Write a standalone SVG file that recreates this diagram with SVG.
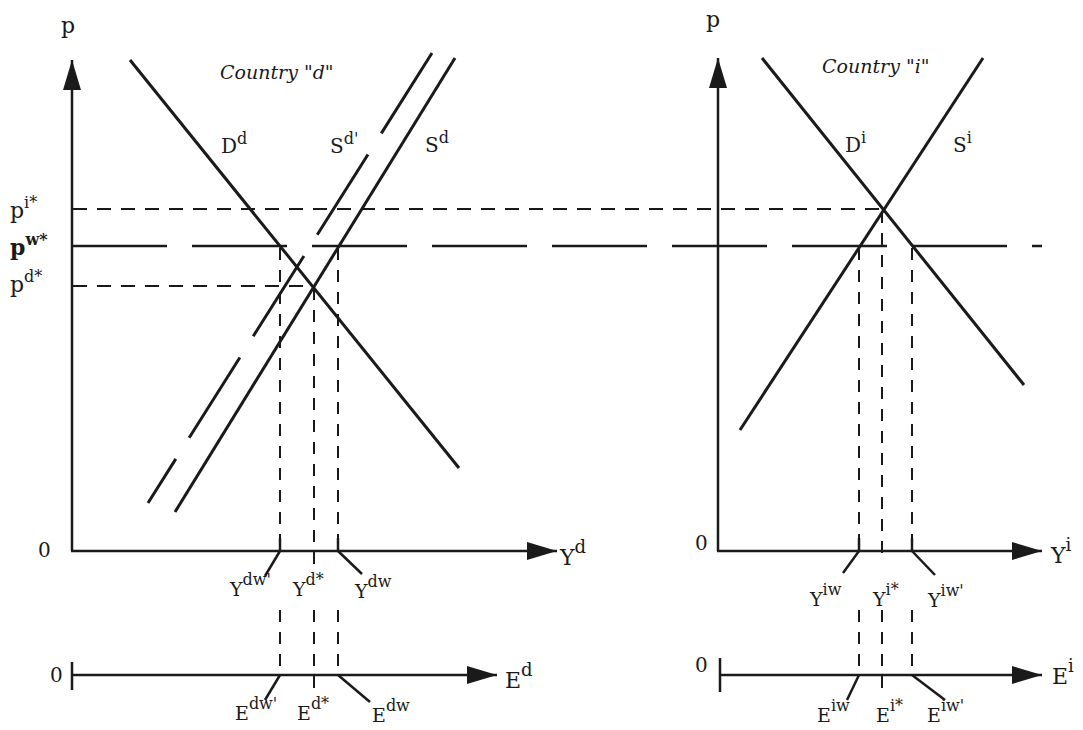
<svg xmlns="http://www.w3.org/2000/svg" width="1083" height="730" viewBox="0 0 1083 730">
<defs>
<style>
.ax{stroke:#1a1a1a;stroke-width:2.5;fill:none}
.cv{stroke:#1a1a1a;stroke-width:3;fill:none;stroke-linecap:butt}
.ds{stroke:#1a1a1a;stroke-width:2;fill:none;stroke-dasharray:12 10}
.hd{stroke:#1a1a1a;stroke-width:2;fill:none;stroke-dasharray:14 10}
.ld{stroke:#1a1a1a;stroke-width:2.5;fill:none}
text{font-family:"DejaVu Serif","Liberation Serif",serif;fill:#1a1a1a}
.lb{font-size:19px}
.big{font-size:22px}
.cur{font-size:20px}
.pl{font-size:22px}
.zero{font-size:20px}
.it{font-size:19px;font-style:italic}
.s{font-size:16px}
</style>
<marker id="ah" markerUnits="userSpaceOnUse" markerWidth="30" markerHeight="18" refX="30" refY="9" orient="auto">
<path d="M0,0 L30,9 L0,18 Z" fill="#1a1a1a"/>
</marker>
</defs>
<rect width="1083" height="730" fill="#ffffff"/>

<g id="axes">
<line class="ax" x1="72" y1="551" x2="72" y2="60" marker-end="url(#ah)"/>
<line class="ax" x1="71" y1="551" x2="557" y2="551" marker-end="url(#ah)"/>
<line class="ax" x1="718" y1="551" x2="718" y2="58" marker-end="url(#ah)"/>
<line class="ax" x1="717" y1="551" x2="1042" y2="551" marker-end="url(#ah)"/>
<line class="ax" x1="72" y1="675" x2="497" y2="675" marker-end="url(#ah)"/>
<line class="ax" x1="72" y1="662" x2="72" y2="690"/>
<line class="ax" x1="720" y1="675" x2="1042" y2="675" marker-end="url(#ah)"/>
<line class="ax" x1="720" y1="658" x2="720" y2="692"/>
</g>

<g id="connectors">
<line class="hd" x1="73" y1="209" x2="883" y2="209"/>
<line class="ld" x1="72" y1="246" x2="1042" y2="246" style="stroke-dasharray:95 25"/>
<line class="hd" x1="73" y1="286" x2="313" y2="286"/>
<line class="ds" x1="280" y1="248" x2="280" y2="540"/>
<line class="ds" x1="314" y1="288" x2="314" y2="565"/>
<line class="ds" x1="338" y1="248" x2="338" y2="540"/>
<line class="ld" x1="280" y1="538" x2="280" y2="551"/>
<line class="ld" x1="338" y1="538" x2="338" y2="551"/>
<line class="ds" x1="280" y1="610" x2="280" y2="672"/>
<line class="ds" x1="314" y1="610" x2="314" y2="692"/>
<line class="ds" x1="338" y1="610" x2="338" y2="672"/>
<line class="ds" x1="859" y1="248" x2="859" y2="540"/>
<line class="ds" x1="882" y1="211" x2="882" y2="557"/>
<line class="ds" x1="912" y1="248" x2="912" y2="540"/>
<line class="ld" x1="859" y1="538" x2="859" y2="551"/>
<line class="ld" x1="912" y1="538" x2="912" y2="551"/>
<line class="ds" x1="859" y1="610" x2="859" y2="672"/>
<line class="ds" x1="882" y1="610" x2="882" y2="690"/>
<line class="ds" x1="912" y1="610" x2="912" y2="672"/>
<line class="ld" x1="280" y1="551" x2="265" y2="576"/>
<line class="ld" x1="338" y1="551" x2="362" y2="574"/>
<line class="ld" x1="280" y1="675" x2="265" y2="700"/>
<line class="ld" x1="338" y1="675" x2="370" y2="702"/>
<line class="ld" x1="859" y1="551" x2="843" y2="573"/>
<line class="ld" x1="912" y1="551" x2="935" y2="575"/>
<line class="ld" x1="859" y1="675" x2="847" y2="700"/>
<line class="ld" x1="912" y1="675" x2="945" y2="700"/>
</g>

<g id="curve-Dd"><line class="cv" x1="130" y1="60" x2="459" y2="468"/></g>
<g id="curve-Sd"><line class="cv" x1="175" y1="512" x2="455" y2="58"/></g>
<g id="curve-Sd-prime"><line class="cv" x1="432" y1="53" x2="148" y2="503" style="stroke-dasharray:95 25"/></g>
<g id="curve-Di"><line class="cv" x1="762" y1="58" x2="1024" y2="385"/></g>
<g id="curve-Si"><line class="cv" x1="740" y1="430" x2="983" y2="58"/></g>

<g id="labels">
<text class="pl" x="61" y="33">p</text>
<text class="pl" x="706" y="27">p</text>
<text class="pl" x="10" y="218">p<tspan class="s" dy="-10">i*</tspan></text>
<text class="pl" x="10" y="255" font-weight="bold">p<tspan class="s" dy="-10">w*</tspan></text>
<text class="pl" x="10" y="292">p<tspan class="s" dy="-10">d*</tspan></text>
<text class="zero" x="38" y="557">0</text>
<text class="zero" x="50" y="682">0</text>
<text class="zero" x="695" y="550">0</text>
<text class="zero" x="695" y="672">0</text>

<text class="big" x="560" y="565">Y<tspan font-size="18" dy="-12">d</tspan></text>
<text class="big" x="505" y="688">E<tspan font-size="18" dy="-12">d</tspan></text>
<text class="big" x="1051" y="563">Y<tspan font-size="18" dy="-12">i</tspan></text>
<text class="big" x="1052" y="684">E<tspan font-size="18" dy="-12">i</tspan></text>

<text class="lb" x="230" y="596">Y<tspan class="s" dy="-11">dw'</tspan></text>
<text class="lb" x="293" y="596">Y<tspan class="s" dy="-11">d*</tspan></text>
<text class="lb" x="355" y="598">Y<tspan class="s" dy="-11">dw</tspan></text>
<text class="lb" x="235" y="720">E<tspan class="s" dy="-11">dw'</tspan></text>
<text class="lb" x="297" y="720">E<tspan class="s" dy="-11">d*</tspan></text>
<text class="lb" x="372" y="722">E<tspan class="s" dy="-11">dw</tspan></text>

<text class="lb" x="810" y="606">Y<tspan class="s" dy="-11">iw</tspan></text>
<text class="lb" x="873" y="606">Y<tspan class="s" dy="-11">i*</tspan></text>
<text class="lb" x="928" y="607">Y<tspan class="s" dy="-11">iw'</tspan></text>
<text class="lb" x="817" y="722">E<tspan class="s" dy="-11">iw</tspan></text>
<text class="lb" x="876" y="722">E<tspan class="s" dy="-11">i*</tspan></text>
<text class="lb" x="927" y="722">E<tspan class="s" dy="-11">iw'</tspan></text>

<text class="it" x="220" y="79">Country "d"</text>
<text class="it" x="822" y="73">Country "i"</text>
<text class="cur" x="221" y="153">D<tspan class="s" dy="-9">d</tspan></text>
<text class="cur" x="330" y="153">S<tspan class="s" dy="-9">d'</tspan></text>
<text class="cur" x="425" y="152">S<tspan class="s" dy="-9">d</tspan></text>
<text class="cur" x="845" y="152">D<tspan class="s" dy="-9">i</tspan></text>
<text class="cur" x="953" y="152">S<tspan class="s" dy="-9">i</tspan></text>
</g>
</svg>
